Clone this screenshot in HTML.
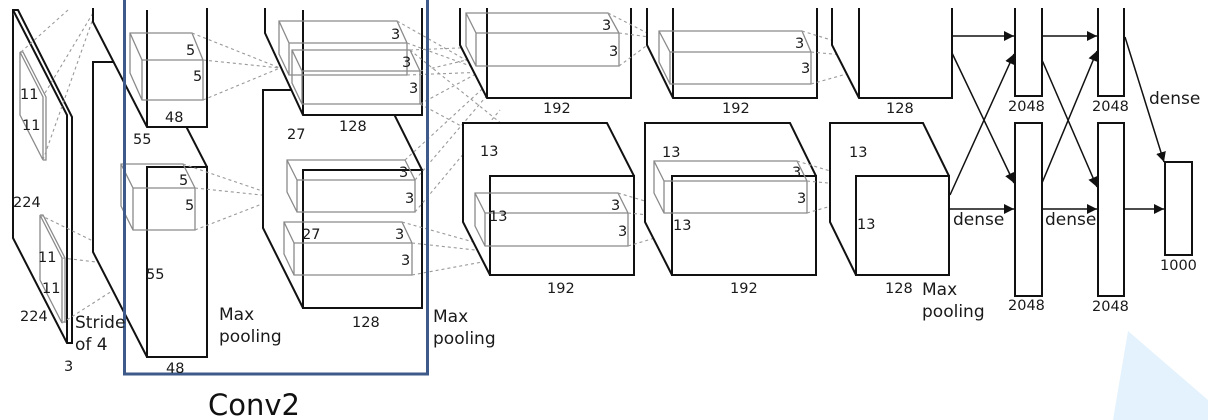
<!DOCTYPE html>
<html><head><meta charset="utf-8"><style>
html,body{margin:0;padding:0;background:#fff;width:1208px;height:420px;overflow:hidden}
svg{display:block}
text{font-family:"DejaVu Sans","Liberation Sans",sans-serif;font-size:14.5px;fill:#1a1a1a}
.b{fill:#fff;stroke:#111;stroke-width:2}
.k{fill:none;stroke:#8a8a8a;stroke-width:1.3}
.d{fill:none;stroke:#999;stroke-width:1.1;stroke-dasharray:3,3}
.a{stroke:#111;stroke-width:1.5;fill:none;marker-end:url(#ar)}
.m{font-size:17px}
</style></head><body>
<svg width="1208" height="420" viewBox="0 0 1208 420" xmlns="http://www.w3.org/2000/svg">
<defs><marker id="ar" viewBox="0 0 10 10" refX="10" refY="5" markerWidth="10" markerHeight="10" markerUnits="userSpaceOnUse" orient="auto"><path d="M0,0 L10,5 L0,10 z" fill="#111"/></marker></defs>
<polygon points="1128,331 1208,400 1208,420 1113,420" fill="#e3f2fd"/>

<path class="b" d="M13,238 L67,343 L72,343 L72,117 L18,10 L13,10 Z"/>
<path class="b" d="M13,10 L67,115 L67,343" />
<path class="k" d="M20,52 L43,97 L43,160 L20,115 Z M20,52 L23,52 L46,97 L46,160 L43,160"/>
<path class="k" d="M40,215 L62,258 L62,323 L40,280 Z M40,215 L43,215 L65,258 L65,323"/>
<path class="d" d="M21,52 L68,10 M45,93 L93,13 M43,160 L95,13 M40,215 L148,268 M62,258 L148,268 M62,323 L148,268"/>

<path class="b" d="M147,357 L93,252 L93,62 L153,62 L207,167 L207,357 Z"/>
<rect class="b" x="147" y="167" width="60" height="190"/>
<path class="b" d="M93,8 L93,22 L147,127 L207,127 L207,8"/>
<path class="b" d="M147,10 L147,127"/>
<path class="k" d="M130,33 L192,33 L203,60 L203,100 L142,100 L130,73 Z M142,60 L203,60 M142,60 L142,100 M130,33 L142,60"/>
<path class="k" d="M121,164 L183,164 L195,188 L195,230 L133,230 L121,206 Z M133,188 L195,188 M133,188 L133,230 M121,164 L133,188"/>
<path class="d" d="M192,33 L280,68 M203,60 L280,68 M203,100 L280,68 M183,164 L280,197 M195,188 L280,197 M195,230 L280,197"/>

<path class="b" d="M303,308 L263,228 L263,90 L382,90 L422,170 L422,308 Z"/>
<rect class="b" x="303" y="170" width="119" height="138"/>
<path class="b" d="M265,8 L265,33 L303,115 L422,115 L422,8"/>
<path class="b" d="M303,10 L303,115"/>
<path class="k" d="M279,21 L397,21 L407,43 L407,75 L289,75 L279,54 Z M289,43 L407,43 M289,43 L289,75 M279,21 L289,43"/>
<path class="k" d="M292,50 L410,50 L420,71 L420,104 L302,104 L292,83 Z M302,71 L420,71 M302,71 L302,104 M292,50 L302,71"/>
<path class="k" d="M287,160 L405,160 L415,180 L415,212 L297,212 L287,192 Z M297,180 L415,180 M297,180 L297,212 M287,160 L297,180"/>
<path class="k" d="M284,222 L402,222 L412,243 L412,275 L294,275 L284,254 Z M294,243 L412,243 M294,243 L294,275 M284,222 L294,243"/>
<path class="d" d="M397,21 L487,72 M407,43 L487,72 M407,75 L487,72 M410,50 L530,45 M420,71 L530,45 M420,104 L530,45 M405,160 L530,45 M415,180 L530,45 M415,212 L500,110 M402,222 L520,255 M412,243 L520,255 M412,275 L520,255 M420,104 L590,195 M410,50 L590,195"/>

<path class="b" d="M460,8 L460,45 L487,98 L631,98 L631,8"/>
<path class="b" d="M487,8 L487,98"/>
<path class="k" d="M466,13 L608,13 L619,33 L619,66 L476,66 L466,46 Z M476,33 L619,33 M476,33 L476,66 M466,13 L476,33"/>
<path class="b" d="M490,275 L463,222 L463,123 L607,123 L634,176 L634,275 Z"/>
<rect class="b" x="490" y="176" width="144" height="99"/>
<path class="k" d="M475,193 L618,193 L628,213 L628,246 L485,246 L475,226 Z M485,213 L628,213 M485,213 L485,246 M475,193 L485,213"/>
<path class="d" d="M608,13 L657,38 M619,33 L657,38 M619,66 L657,38 M618,193 L712,221 M628,213 L712,221 M628,246 L712,221"/>

<path class="b" d="M647,8 L647,45 L673,98 L817,98 L817,8"/>
<path class="b" d="M673,8 L673,98"/>
<path class="k" d="M659,31 L802,31 L811,52 L811,84 L670,84 L659,62 Z M670,52 L811,52 M670,52 L670,84 M659,31 L670,52"/>
<path class="b" d="M672,275 L645,222 L645,123 L790,123 L816,176 L816,275 Z"/>
<rect class="b" x="672" y="176" width="144" height="99"/>
<path class="k" d="M654,161 L797,161 L807,181 L807,213 L664,213 L654,193 Z M664,181 L807,181 M664,181 L664,213 M654,161 L664,181"/>
<path class="d" d="M802,31 L896,60 M811,52 L896,60 M811,84 L896,60 M797,161 L890,189 M807,181 L890,189 M807,213 L890,189"/>

<path class="b" d="M832,8 L832,45 L859,98 L952,98 L952,8"/>
<path class="b" d="M859,8 L859,98"/>
<path class="b" d="M856,275 L830,222 L830,123 L923,123 L949,176 L949,275 Z"/>
<rect class="b" x="856" y="176" width="93" height="99"/>

<path class="b" d="M1015,8 L1015,96 L1042,96 L1042,8"/>
<rect class="b" x="1015" y="123" width="27" height="173"/>
<path class="b" d="M1098,8 L1098,96 L1124,96 L1124,8"/>
<rect class="b" x="1098" y="123" width="26" height="173"/>
<rect class="b" x="1165" y="162" width="27" height="93"/>
<path class="a" d="M952,36 L1014,36"/>
<path class="a" d="M952,53 L1014,183"/>
<path class="a" d="M950,195 L1014,54"/>
<path class="a" d="M949,209 L1014,209"/>
<path class="a" d="M1042,36 L1097,36"/>
<path class="a" d="M1042,60 L1097,187"/>
<path class="a" d="M1042,183 L1097,51"/>
<path class="a" d="M1042,209 L1097,209"/>
<path class="a" d="M1125,37 L1164,162"/>
<path class="a" d="M1124,209 L1164,209"/>

<rect x="124.5" y="-3" width="303" height="377" fill="none" stroke="#3d5a8a" stroke-width="3"/>
<text x="208" y="415" style="font-size:29px;fill:#111">Conv2</text>

<text x="20" y="99">11</text><text x="22" y="130">11</text>
<text x="13" y="207">224</text>
<text x="38" y="262">11</text><text x="42" y="293">11</text>
<text x="20" y="321">224</text>
<text x="75" y="328" class="m">Stride</text><text x="75" y="350" class="m">of 4</text>
<text x="64" y="371">3</text>
<text x="186" y="55">5</text><text x="193" y="81">5</text>
<text x="165" y="122">48</text><text x="133" y="144">55</text>
<text x="179" y="185">5</text><text x="185" y="210">5</text>
<text x="146" y="279">55</text><text x="166" y="373">48</text>
<text x="219" y="320" class="m">Max</text><text x="219" y="342" class="m">pooling</text>
<text x="391" y="39">3</text><text x="402" y="67">3</text><text x="409" y="93">3</text>
<text x="287" y="139">27</text><text x="339" y="131">128</text>
<text x="399" y="177">3</text><text x="405" y="203">3</text>
<text x="302" y="239">27</text><text x="395" y="239">3</text><text x="401" y="265">3</text>
<text x="352" y="327">128</text>
<text x="433" y="322" class="m">Max</text><text x="433" y="344" class="m">pooling</text>
<text x="602" y="30">3</text><text x="609" y="56">3</text><text x="543" y="113">192</text>
<text x="480" y="156">13</text><text x="489" y="221">13</text>
<text x="611" y="210">3</text><text x="618" y="236">3</text><text x="547" y="293">192</text>
<text x="795" y="48">3</text><text x="801" y="73">3</text><text x="722" y="113">192</text>
<text x="662" y="157">13</text><text x="673" y="230">13</text>
<text x="792" y="177">3</text><text x="797" y="203">3</text><text x="730" y="293">192</text>
<text x="886" y="113">128</text>
<text x="849" y="157">13</text><text x="857" y="229">13</text>
<text x="885" y="293">128</text>
<text x="922" y="295" class="m">Max</text><text x="922" y="317" class="m">pooling</text>
<text x="953" y="225" class="m">dense</text>
<text x="1045" y="225" class="m">dense</text>
<text x="1149" y="104" class="m">dense</text>
<text x="1008" y="111">2048</text><text x="1092" y="111">2048</text>
<text x="1008" y="310">2048</text><text x="1092" y="311">2048</text>
<text x="1160" y="270">1000</text>
</svg>
</body></html>
